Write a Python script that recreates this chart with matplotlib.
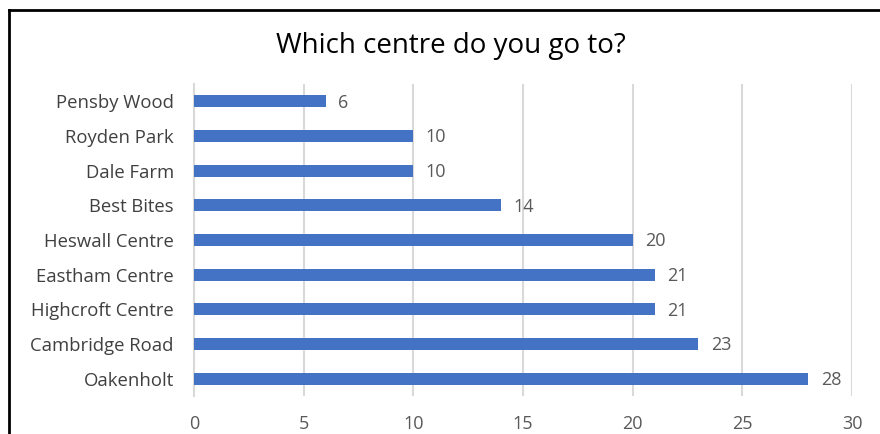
import matplotlib.pyplot as plt
from matplotlib.lines import Line2D

centres = ['Pensby Wood', 'Royden Park', 'Dale Farm', 'Best Bites', 'Heswall Centre',
           'Eastham Centre', 'Highcroft Centre', 'Cambridge Road', 'Oakenholt']
counts = [6, 10, 10, 14, 20, 21, 21, 23, 28]
xticks = [0, 5, 10, 15, 20, 25, 30]

plt.rcParams['font.family'] = ['Open Sans', 'DejaVu Sans']

fig = plt.figure(figsize=(8.8, 4.34), dpi=100)
ax = fig.add_axes([0.2205, 0.0876, 0.7477, 0.719])

ypos = list(range(len(centres)))[::-1]
ax.barh(ypos, counts, height=0.35, color='#4472C4', zorder=3)
for y, v in zip(ypos, counts):
    ax.annotate(str(v), (v, y), xytext=(9, -1), textcoords='offset points',
                va='center', ha='left', fontsize=13, color='#595959')

ax.set_yticks(ypos)
ax.set_yticklabels(centres, fontsize=13.3, color='#404040')
ax.set_xticks(xticks)
ax.set_xticklabels([str(t) for t in xticks], fontsize=13, color='#595959')
ax.set_xlim(0, 30)
ax.set_ylim(-0.5, len(centres) - 0.5)
ax.tick_params(length=0)
ax.tick_params(axis='x', pad=14)
ax.tick_params(axis='y', pad=14.5)
ax.grid(axis='x', color='#d9d9d9', lw=1.5, zorder=0)
for s in ['top', 'right', 'bottom']:
    ax.spines[s].set_visible(False)
ax.spines['left'].set_color('#d9d9d9')
ax.spines['left'].set_linewidth(1.5)

fig.text(0.512, 0.893, 'Which centre do you go to?', ha='center', va='center',
         fontsize=20, color='#000000')

# black frame on top and left edges
fig.add_artist(Line2D([9 / 880, 1], [1 - 10 / 434, 1 - 10 / 434], color='black', lw=2))
fig.add_artist(Line2D([9 / 880, 9 / 880], [0, 1 - 10 / 434], color='black', lw=2))

fig.savefig('out.png', dpi=100, facecolor='white')
